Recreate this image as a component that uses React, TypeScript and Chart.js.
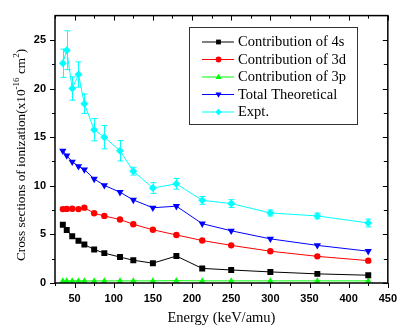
import React, { useEffect, useRef } from 'react';
import { Chart, registerables } from 'chart.js';

Chart.register(...registerables);

const energies = [35, 40, 47, 55, 62.5, 75, 88, 108, 125, 150, 180, 213, 250, 300, 360, 425];
const contrib4s = [6.0, 5.45, 4.8, 4.35, 3.95, 3.45, 3.07, 2.67, 2.34, 2.04, 2.77, 1.5, 1.34, 1.14, 0.94, 0.8];
const contrib3d = [7.6, 7.62, 7.63, 7.6, 7.75, 7.17, 6.9, 6.53, 6.04, 5.47, 4.94, 4.37, 3.87, 3.27, 2.74, 2.3];
const contrib3p = [0.22, 0.22, 0.22, 0.22, 0.22, 0.22, 0.22, 0.22, 0.22, 0.22, 0.24, 0.22, 0.22, 0.22, 0.22, 0.22];
const totalTheo = [13.6, 13.1, 12.47, 12.0, 11.67, 10.7, 10.04, 9.34, 8.54, 7.74, 7.9, 6.1, 5.37, 4.54, 3.87, 3.27];
const expt = [22.6, 23.94, 20.0, 21.44, 18.44, 15.77, 15.0, 13.6, 11.5, 9.77, 10.2, 8.5, 8.17, 7.2, 6.9, 6.17];
const exptErr = [1.45, 2.0, 1.2, 1.3, 1.0, 1.15, 1.2, 1.05, 0.4, 0.55, 0.55, 0.4, 0.4, 0.3, 0.3, 0.4];

const xTicks = [50, 100, 150, 200, 250, 300, 350, 400, 450];
const yTicks = [0, 5, 10, 15, 20, 25];
const xMinor = [25, 75, 125, 175, 225, 275, 325, 375, 425];
const yMinor = [2.5, 7.5, 12.5, 17.5, 22.5];

const seriesNames = ['Contribution of 4s', 'Contribution of 3d', 'Contribution of 3p', 'Total Theoretical', 'Expt.'];
const seriesColors = ['#000000', '#ff0000', '#00ff00', '#0000ff', '#00ffff'];
const seriesStyles = ['square', 'circle', 'triUp', 'triDown', 'diamond'];
const seriesValues = [contrib4s, contrib3d, contrib3p, totalTheo, expt];

function drawMarker(ctx: CanvasRenderingContext2D, style: string, x: number, y: number, r: number, color: string) {
  ctx.save();
  ctx.fillStyle = color;
  ctx.beginPath();
  if (style === 'square') {
    ctx.rect(x - r * 0.75, y - r * 0.75, r * 1.5, r * 1.5);
  } else if (style === 'circle') {
    ctx.arc(x, y, r * 0.9, 0, Math.PI * 2);
  } else if (style === 'triUp') {
    ctx.moveTo(x, y - r);
    ctx.lineTo(x + r * 0.95, y + r * 0.6);
    ctx.lineTo(x - r * 0.95, y + r * 0.6);
    ctx.closePath();
  } else if (style === 'triDown') {
    ctx.moveTo(x, y + r);
    ctx.lineTo(x + r * 0.95, y - r * 0.6);
    ctx.lineTo(x - r * 0.95, y - r * 0.6);
    ctx.closePath();
  } else {
    ctx.moveTo(x, y - r);
    ctx.lineTo(x + r, y);
    ctx.lineTo(x, y + r);
    ctx.lineTo(x - r, y);
    ctx.closePath();
  }
  ctx.fill();
  ctx.restore();
}

const errorBarPlugin = {
  id: 'errorBars',
  beforeDatasetsDraw(chart: any) {
    const ctx = chart.ctx as CanvasRenderingContext2D;
    const xs = chart.scales.x;
    const ys = chart.scales.y;
    ctx.save();
    ctx.strokeStyle = '#00ffff';
    ctx.lineWidth = 1;
    energies.forEach((e, i) => {
      const px = Math.round(xs.getPixelForValue(e)) + 0.5;
      const y1 = ys.getPixelForValue(expt[i] + exptErr[i]);
      const y2 = ys.getPixelForValue(expt[i] - exptErr[i]);
      ctx.beginPath();
      ctx.moveTo(px, y1);
      ctx.lineTo(px, y2);
      ctx.moveTo(px - 3, y1);
      ctx.lineTo(px + 3, y1);
      ctx.moveTo(px - 3, y2);
      ctx.lineTo(px + 3, y2);
      ctx.stroke();
    });
    ctx.restore();
  },
};

const framePlugin = {
  id: 'frameAndText',
  afterDraw(chart: any) {
    const ctx = chart.ctx as CanvasRenderingContext2D;
    const { left, right, top, bottom } = chart.chartArea;
    const xs = chart.scales.x;
    const ys = chart.scales.y;
    ctx.save();
    ctx.strokeStyle = '#000';
    ctx.lineWidth = 1.5;
    ctx.strokeRect(left, top, right - left, bottom - top);
    ctx.lineWidth = 1;
    ctx.beginPath();
    xTicks.forEach((v) => {
      const p = Math.round(xs.getPixelForValue(v)) + 0.5;
      ctx.moveTo(p, bottom);
      ctx.lineTo(p, bottom + 5);
      ctx.moveTo(p, top);
      ctx.lineTo(p, top + 5);
    });
    xMinor.forEach((v) => {
      const p = Math.round(xs.getPixelForValue(v)) + 0.5;
      ctx.moveTo(p, bottom);
      ctx.lineTo(p, bottom + 3);
      ctx.moveTo(p, top);
      ctx.lineTo(p, top + 3);
    });
    yTicks.forEach((v) => {
      const p = Math.round(ys.getPixelForValue(v)) + 0.5;
      ctx.moveTo(left, p);
      ctx.lineTo(left - 5, p);
      ctx.moveTo(right, p);
      ctx.lineTo(right - 5, p);
    });
    yMinor.forEach((v) => {
      const p = Math.round(ys.getPixelForValue(v)) + 0.5;
      ctx.moveTo(left, p);
      ctx.lineTo(left - 3, p);
      ctx.moveTo(right, p);
      ctx.lineTo(right - 4, p);
    });
    ctx.stroke();

    // x title
    ctx.fillStyle = '#000';
    ctx.font = '14.5px "Liberation Serif"';
    ctx.textAlign = 'center';
    ctx.textBaseline = 'middle';
    ctx.fillText('Energy (keV/amu)', (left + right) / 2, 318);

    // y title with superscripts
    const parts: [string, boolean][] = [
      ['Cross sections of ionization(x10', false],
      ['-16', true],
      [' cm', false],
      ['2', true],
      [')', false],
    ];
    const normal = '13.3px "Liberation Serif"';
    const sup = '9px "Liberation Serif"';
    let total = 0;
    parts.forEach(([t, s]) => {
      ctx.font = s ? sup : normal;
      total += ctx.measureText(t).width;
    });
    ctx.translate(20, 155);
    ctx.rotate(-Math.PI / 2);
    ctx.textAlign = 'left';
    ctx.textBaseline = 'alphabetic';
    let cx = -total / 2;
    parts.forEach(([t, s]) => {
      ctx.font = s ? sup : normal;
      ctx.fillText(t, cx, s ? -1 : 4.5);
      cx += ctx.measureText(t).width;
    });
    ctx.setTransform(1, 0, 0, 1, 0, 0);

    // legend
    const lx = 189.5, ly = 27.5, lw = 168, lh = 97;
    ctx.fillStyle = '#fff';
    ctx.fillRect(lx, ly, lw, lh);
    ctx.strokeStyle = '#333';
    ctx.lineWidth = 1;
    ctx.strokeRect(lx, ly, lw, lh);
    ctx.font = '14.5px "Liberation Serif"';
    ctx.textBaseline = 'middle';
    ctx.textAlign = 'left';
    seriesNames.forEach((name, i) => {
      const y = 42 + i * 17.5;
      ctx.strokeStyle = seriesColors[i];
      ctx.lineWidth = 1;
      ctx.beginPath();
      ctx.moveTo(202, y);
      ctx.lineTo(234, y);
      ctx.stroke();
      drawMarker(ctx, seriesStyles[i], 218.5, y, 3.2, seriesColors[i]);
      ctx.fillStyle = '#000';
      ctx.fillText(name, 238, y + 0.5);
    });
    ctx.restore();
  },
};

const pointStyles: any[] = ['rect', 'circle', 'triangle', 'triangle', 'rectRot'];
const pointRadii = [4.2, 3.2, 3.6, 4.2, 4];
const pointRotations = [0, 0, 0, 180, 0];

export default function App() {
  const ref = useRef<HTMLCanvasElement | null>(null);
  useEffect(() => {
    if (!ref.current) return;
    const datasets = seriesValues.map((vals, i) => ({
      label: seriesNames[i],
      data: energies.map((e, j) => ({ x: e, y: vals[j] })),
      borderColor: seriesColors[i],
      backgroundColor: seriesColors[i],
      borderWidth: 1,
      pointStyle: pointStyles[i],
      pointRadius: pointRadii[i],
      pointRotation: pointRotations[i],
      pointBorderWidth: 0,
      pointBackgroundColor: seriesColors[i],
      pointBorderColor: seriesColors[i],
      tension: 0,
    }));
    const chart = new Chart(ref.current, {
      type: 'line',
      data: { datasets },
      plugins: [errorBarPlugin, framePlugin],
      options: {
        animation: false,
        responsive: false,
        layout: { padding: { left: 0, right: 9, top: 9, bottom: 0 } },
        plugins: { legend: { display: false }, tooltip: { enabled: false } },
        scales: {
          x: {
            type: 'linear',
            min: 25,
            max: 450,
            grid: { display: false, drawTicks: false },
            border: { display: false },
            afterBuildTicks: (s: any) => {
              s.ticks = xTicks.map((v) => ({ value: v }));
            },
            afterFit: (s: any) => {
              s.height = 48;
            },
            ticks: {
              padding: 9,
              color: '#000',
              font: { family: '"Liberation Sans", Arial', size: 11, weight: 'bold' },
              maxRotation: 0,
              autoSkip: false,
            },
          },
          y: {
            type: 'linear',
            min: 0,
            max: 27.5,
            grid: { display: false, drawTicks: false },
            border: { display: false },
            afterBuildTicks: (s: any) => {
              s.ticks = yTicks.map((v) => ({ value: v }));
            },
            afterFit: (s: any) => {
              s.width = 55;
            },
            ticks: {
              padding: 9,
              color: '#000',
              font: { family: '"Liberation Sans", Arial', size: 11, weight: 'bold' },
              autoSkip: false,
            },
          },
        },
      },
    });
    return () => chart.destroy();
  }, []);
  return (
    <div style={{ position: 'absolute', left: 0, top: 0, width: 406, height: 331, background: '#fff' }}>
      <canvas ref={ref} width={406} height={331} style={{ width: 406, height: 331 }} />
    </div>
  );
}
